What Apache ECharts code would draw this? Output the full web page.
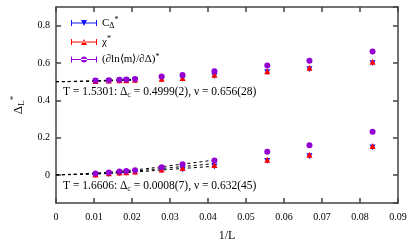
<!DOCTYPE html>
<html><head><meta charset="utf-8">
<script src="https://cdn.jsdelivr.net/npm/echarts@6/dist/echarts.min.js"></script>
<style>html,body{margin:0;padding:0;background:#fff}#c{width:411px;height:247px}</style>
</head><body><div id="c"></div>
<script>
// ---- data ----
const invL = [0.0104, 0.0139, 0.0167, 0.0185, 0.0208, 0.0278, 0.0333, 0.0417, 0.0556, 0.0667, 0.0833];
const cUp   = [0.502, 0.504, 0.505, 0.506, 0.508, 0.512, 0.515, 0.530, 0.550, 0.566, 0.598];
const chiUp = [0.504, 0.506, 0.507, 0.508, 0.510, 0.516, 0.520, 0.537, 0.556, 0.574, 0.607];
const mUp   = [0.506, 0.508, 0.510, 0.512, 0.514, 0.528, 0.536, 0.556, 0.586, 0.612, 0.661];
const cLow   = [0.000, 0.006, 0.010, 0.012, 0.015, 0.024, 0.030, 0.046, 0.075, 0.100, 0.147];
const chiLow = [0.003, 0.009, 0.013, 0.015, 0.019, 0.030, 0.037, 0.053, 0.082, 0.108, 0.155];
const mLow   = [0.008, 0.014, 0.019, 0.021, 0.026, 0.042, 0.058, 0.078, 0.125, 0.160, 0.232];
const fitXUp  = [0, 0.007, 0.014, 0.0208];
const fitUpC   = [0.500, 0.501, 0.504, 0.508];
const fitUpChi = [0.500, 0.502, 0.506, 0.511];
const fitUpM   = [0.500, 0.503, 0.508, 0.514];
const fitXLow = [0, 0.01, 0.02, 0.03, 0.0417];
const fitLowC   = [0.001, 0.005, 0.015, 0.030, 0.047];
const fitLowChi = [0.001, 0.007, 0.020, 0.039, 0.061];
const fitLowM   = [0.001, 0.010, 0.026, 0.050, 0.080];
const xRange = [0, 0.09];
const yRange = [-0.15, 0.9];
const textUp = 'T = 1.5301: Δ{s|c} = 0.4999(2), ν = 0.656(28)';
const textLow = 'T = 1.6606: Δ{s|c} = 0.0008(7), ν = 0.632(45)';

const FONT = 'Liberation Serif';
const AX = '#444';
const zip = (xs, ys) => xs.map((x, i) => [x, ys[i]]);

function pts(name, ys, color, symbol, rot, z, size) {
  return {type: 'scatter', name, data: zip(invL, ys), symbol, symbolRotate: rot,
    symbolSize: size, itemStyle: {color, opacity: 1}, z};
}
function fit(xs, ys) {
  return {type: 'line', data: zip(xs, ys), smooth: true, showSymbol: false, silent: true,
    lineStyle: {color: '#000', width: 1, type: [3, 3]}, z: 1};
}
const ebar = (mk) => 'path://M0,3.5h26v1h-26z M0,1h1v6h-1z M25,1h1v6h-1z ' + mk;
const axLine = () => ({show: true, onZero: false, lineStyle: {color: AX, width: 1.5}});
const tick = () => ({show: true, inside: true, length: 5, lineStyle: {color: AX, width: 1.5}});

const chart = echarts.init(document.getElementById('c'), null, {renderer: 'canvas'});
chart.setOption({
  animation: false,
  grid: {left: 56, right: 13, top: 7, bottom: 41},
  legend: {
    left: 66, top: 11, orient: 'vertical', itemGap: 5, itemWidth: 26, itemHeight: 8,
    textStyle: {fontFamily: FONT, fontSize: 11, color: '#000',
      rich: {s: {fontSize: 8, verticalAlign: 'bottom', padding: [6, 0, 0, 0]},
             p: {fontSize: 8, verticalAlign: 'top', padding: [0, 0, 6, 0]}}},
    data: [
      {name: 'C', icon: ebar('M10,1h6l-3,6z')},
      {name: 'chi', icon: ebar('M10,7h6l-3,-6z')},
      {name: 'm', icon: ebar('M13,1a3,3 0 1,0 0.01,0z')}
    ],
    formatter: n => n === 'C' ? 'C{s|Δ}{p|*}' : n === 'chi' ? 'χ{p|*}' : '(∂ln⟨m⟩/∂Δ){p|*}'
  },
  xAxis: [{
    type: 'value', min: xRange[0], max: xRange[1], interval: 0.01,
    name: '1/L', nameLocation: 'middle', nameGap: 27,
    nameTextStyle: {fontFamily: FONT, fontSize: 12, color: '#000'},
    axisLine: axLine(),
    axisTick: tick(),
    axisLabel: {fontFamily: FONT, fontSize: 10, color: '#000', margin: 9,
      formatter: v => String(+v.toFixed(2))},
    splitLine: {show: false}
  }, {
    type: 'value', position: 'top', min: xRange[0], max: xRange[1], interval: 0.01,
    axisLine: axLine(),
    axisTick: tick(),
    axisLabel: {show: false}, splitLine: {show: false}
  }],
  yAxis: [{
    type: 'value', min: yRange[0], max: yRange[1],
    name: 'Δ{s|L}{p|*}', nameLocation: 'middle', nameGap: 28, nameRotate: 90,
    nameTextStyle: {fontFamily: FONT, fontSize: 13, color: '#000',
      rich: {s: {fontSize: 9, verticalAlign: 'bottom', padding: [8, 0, 0, 0]},
             p: {fontSize: 9, verticalAlign: 'top', padding: [0, 0, 8, 0]}}},
    axisLine: axLine(),
    axisTick: tick(),
    axisLabel: {fontFamily: FONT, fontSize: 10, color: '#000', margin: 6,
      showMinLabel: false, showMaxLabel: false,
      formatter: v => String(+v.toFixed(1))},
    splitLine: {show: false}
  }, {
    type: 'value', position: 'right', min: yRange[0], max: yRange[1],
    axisLine: axLine(),
    axisTick: tick(),
    axisLabel: {show: false}, splitLine: {show: false}
  }],
  graphic: [
    {type: 'text', left: 63, top: 86, z: 10, style: {text: textUp, fontFamily: FONT, fontSize: 11.5, fill: '#000',
      rich: {s: {fontSize: 8, fontFamily: FONT, padding: [6, 0, 0, 0], verticalAlign: 'bottom'}}}},
    {type: 'text', left: 63, top: 180, z: 10, style: {text: textLow, fontFamily: FONT, fontSize: 11.5, fill: '#000',
      rich: {s: {fontSize: 8, fontFamily: FONT, padding: [6, 0, 0, 0], verticalAlign: 'bottom'}}}}
  ],
  series: [
    fit(fitXUp, fitUpC), fit(fitXUp, fitUpChi), fit(fitXUp, fitUpM),
    fit(fitXLow, fitLowC), fit(fitXLow, fitLowChi), fit(fitXLow, fitLowM),
    pts('C', cUp, '#1515ff', 'triangle', 180, 3, 6),
    pts('chi', chiUp, '#ff0000', 'triangle', 0, 4, 6),
    pts('m', mUp, '#9400d3', 'circle', 0, 5, 6),
    pts('C', cLow, '#1515ff', 'triangle', 180, 3, 6),
    pts('chi', chiLow, '#ff0000', 'triangle', 0, 4, 6),
    pts('m', mLow, '#9400d3', 'circle', 0, 5, 6)
  ]
});
</script></body></html>
